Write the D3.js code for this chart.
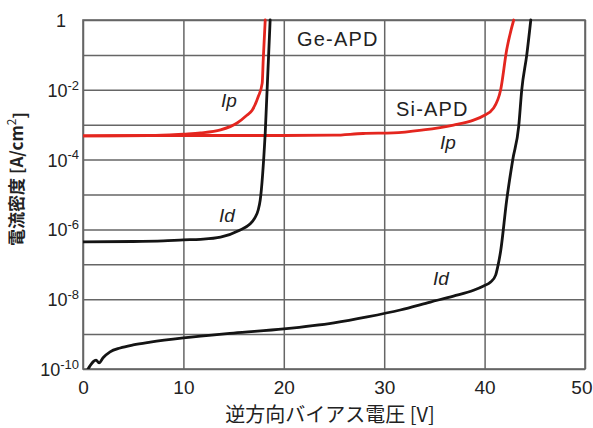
<!DOCTYPE html>
<html>
<head>
<meta charset="utf-8">
<script src="https://cdn.jsdelivr.net/npm/d3@7"></script>
<style>
  html, body { margin: 0; padding: 0; background: #fff; }
  svg { display: block; font-family: "Liberation Sans", Arial, "Noto Sans CJK JP", sans-serif; }
</style>
</head>
<body>
<svg id="chart" width="593" height="428"></svg>
<script>
// Reverse bias voltage [V] and current density [A/cm^2] for each curve
const geIdV = [0, 5, 8, 10, 11.7, 13.7, 15.6, 16.6, 17.1, 17.45, 17.65, 18.15, 18.64];
const geIdJ = [4.4e-7, 4.5e-7, 4.7e-7, 5.0e-7, 5.2e-7, 6.0e-7, 9.5e-7, 1.4e-6, 2.1e-6, 3.6e-6, 6.9e-6, 5.8e-4, 1];

const geIpV = [0, 6.7, 10, 11.7, 13.7, 15.35, 16.35, 16.85, 17.45, 17.85, 17.95, 18.15];
const geIpJ = [4.8e-4, 4.9e-4, 5.4e-4, 5.8e-4, 7.1e-4, 1.12e-3, 1.9e-3, 2.6e-3, 6.3e-3, 1.55e-2, 7.1e-2, 1];

const siIpV = [0, 10, 20, 25, 27.9, 30.9, 33.9, 36.9, 38.9, 39.9, 40.9, 41.6, 42.2, 42.9];
const siIpJ = [4.8e-4, 4.9e-4, 4.9e-4, 5.0e-4, 5.6e-4, 5.8e-4, 7.1e-4, 9.8e-4, 1.35e-3, 1.8e-3, 3.0e-3, 1.0e-2, 1.4e-1, 1];

const siIdV = [0.5, 0.7, 1.0, 1.3, 1.6, 2.0, 2.7, 3.7, 5.0, 6.7, 10, 15, 20, 25, 28.3, 31.6, 34.6, 36.9, 38.9, 39.9, 40.6, 41.1, 41.3, 41.6, 42.2, 42.8, 43.4, 43.7, 44.2, 44.6];
const siIdJ = [1e-10, 1.23e-10, 1.6e-10, 1.8e-10, 1.5e-10, 2.1e-10, 3.1e-10, 4.0e-10, 4.9e-10, 5.9e-10, 7.8e-10, 1.07e-9, 1.41e-9, 2.1e-9, 3.1e-9, 4.9e-9, 8.3e-9, 1.23e-8, 1.8e-8, 2.4e-8, 3.1e-8, 4.9e-8, 8.3e-8, 2.4e-7, 6.9e-6, 9.8e-5, 9.1e-4, 1e-2, 1e-1, 1];

// Axis ticks
const xTicks = [0, 10, 20, 30, 40, 50];
const yGridExps = [0, -1, -2, -3, -4, -5, -6, -7, -8, -9, -10];
const yLabelExps = [0, -2, -4, -6, -8, -10];

const xTitle = "逆方向バイアス電圧 [V]";
const yTitle = "電流密度 [A/cm";

const textColor = "#222";
const gridColor = "#666";
const red = "#e4261f";
const black = "#141414";

const svg = d3.select("#chart");
const plotL = 83, plotR = 585, plotT = 20, plotB = 369;

const x = d3.scaleLinear().domain([0, 50]).range([plotL, plotR]);
const y = d3.scaleLog().domain([1e-10, 1]).range([plotB, plotT]);

// Grid: vertical lines every 10 V
const xGrid = svg.append("g")
  .attr("transform", `translate(0,${plotB})`)
  .call(d3.axisBottom(x).tickValues(xTicks).tickSize(-(plotB - plotT)).tickFormat(""));
xGrid.select(".domain").remove();
xGrid.selectAll("line").attr("stroke", gridColor).attr("stroke-width", 1.5);

// Grid: horizontal lines every decade
const yGrid = svg.append("g")
  .attr("transform", `translate(${plotL},0)`)
  .call(d3.axisLeft(y).tickValues(yGridExps.map(e => Math.pow(10, e))).tickSize(-(plotR - plotL)).tickFormat(""));
yGrid.select(".domain").remove();
yGrid.selectAll("line").attr("stroke", gridColor).attr("stroke-width", 1.5);

// Plot frame
svg.append("rect")
  .attr("x", plotL).attr("y", plotT)
  .attr("width", plotR - plotL).attr("height", plotB - plotT)
  .attr("fill", "none").attr("stroke", gridColor).attr("stroke-width", 1.6);

// X tick labels
const xAxis = svg.append("g")
  .attr("transform", `translate(0,${plotB})`)
  .call(d3.axisBottom(x).tickValues(xTicks).tickSize(0).tickPadding(12).tickFormat(d3.format("d")));
xAxis.select(".domain").remove();
xAxis.selectAll("text")
  .attr("font-size", 19).attr("fill", textColor)
  .attr("font-family", "'Liberation Sans', Arial, sans-serif");
// the last label sits against the right edge of the figure
xAxis.selectAll(".tick text").filter(d => d === 50)
  .attr("text-anchor", "end").attr("x", 7);

// Y tick labels with superscript exponents
const yAxis = svg.append("g")
  .attr("transform", `translate(${plotL},0)`)
  .call(d3.axisLeft(y).tickValues(yLabelExps.map(e => Math.pow(10, e))).tickSize(0).tickPadding(6).tickFormat(""));
yAxis.select(".domain").remove();
yAxis.selectAll(".tick text").each(function(d) {
  const e = Math.round(Math.log10(d));
  const t = d3.select(this)
    .attr("font-size", 18).attr("fill", textColor)
    .attr("font-family", "'Liberation Sans', Arial, sans-serif")
    .attr("dy", "0.36em");
  if (e === 0) {
    t.attr("x", -17).text("1");
  } else {
    t.attr("x", -4);
    t.append("tspan").text("10");
    t.append("tspan").attr("font-size", 13).attr("dy", "-0.55em").text(String(e));
  }
});

// Curves
const line = d3.line()
  .x(d => x(d[0]))
  .y(d => y(d[1]))
  .curve(d3.curveMonotoneX);

svg.append("clipPath").attr("id", "plotClip")
  .append("rect").attr("x", plotL).attr("y", plotT - 3).attr("width", plotR - plotL).attr("height", plotB - plotT + 3);

const curves = svg.append("g").attr("clip-path", "url(#plotClip)");
const series = [
  { v: siIpV, j: siIpJ, color: red },
  { v: geIpV, j: geIpJ, color: red },
  { v: geIdV, j: geIdJ, color: black },
  { v: siIdV, j: siIdJ, color: black }
];
series.forEach(s => {
  curves.append("path")
    .datum(d3.zip(s.v, s.j))
    .attr("d", line)
    .attr("fill", "none")
    .attr("stroke", s.color)
    .attr("stroke-width", 2.8)
    .attr("stroke-linejoin", "round")
    .attr("stroke-linecap", "round");
});

// Curve annotations
const notes = [
  { text: "Ge-APD", px: 297, py: 46, size: 20, italic: false, spacing: 1.2 },
  { text: "Si-APD", px: 396, py: 116, size: 20, italic: false, spacing: 1.2 },
  { text: "Ip", px: 221, py: 107, size: 19, italic: true, spacing: 0 },
  { text: "Ip", px: 440, py: 149, size: 19, italic: true, spacing: 0 },
  { text: "Id", px: 219, py: 222, size: 19, italic: true, spacing: 0 },
  { text: "Id", px: 433, py: 285, size: 19, italic: true, spacing: 0 }
];
notes.forEach(n => {
  svg.append("text")
    .attr("x", n.px).attr("y", n.py)
    .attr("font-size", n.size)
    .attr("font-style", n.italic ? "italic" : "normal")
    .attr("letter-spacing", n.spacing)
    .attr("fill", textColor)
    .attr("font-family", "'Liberation Sans', Arial, sans-serif")
    .text(n.text);
});

// Axis titles
svg.append("text")
  .attr("x", (plotL + plotR) / 2 - 4).attr("y", 422)
  .attr("text-anchor", "middle")
  .attr("font-size", 20)
  .attr("fill", textColor)
  .attr("font-family", "'Noto Sans CJK JP', sans-serif")
  .text(xTitle);

const yt = svg.append("text")
  .attr("transform", "translate(23,179) rotate(-90)")
  .attr("text-anchor", "middle")
  .attr("font-size", 17)
  .attr("font-weight", "bold")
  .attr("fill", textColor)
  .attr("font-family", "'Noto Sans CJK JP', sans-serif");
yt.append("tspan").text(yTitle);
yt.append("tspan").attr("font-size", 12).attr("dy", "-0.6em").attr("font-weight", "normal").text("2");
yt.append("tspan").attr("dy", "0.6em").text("]");
</script>
</body>
</html>
